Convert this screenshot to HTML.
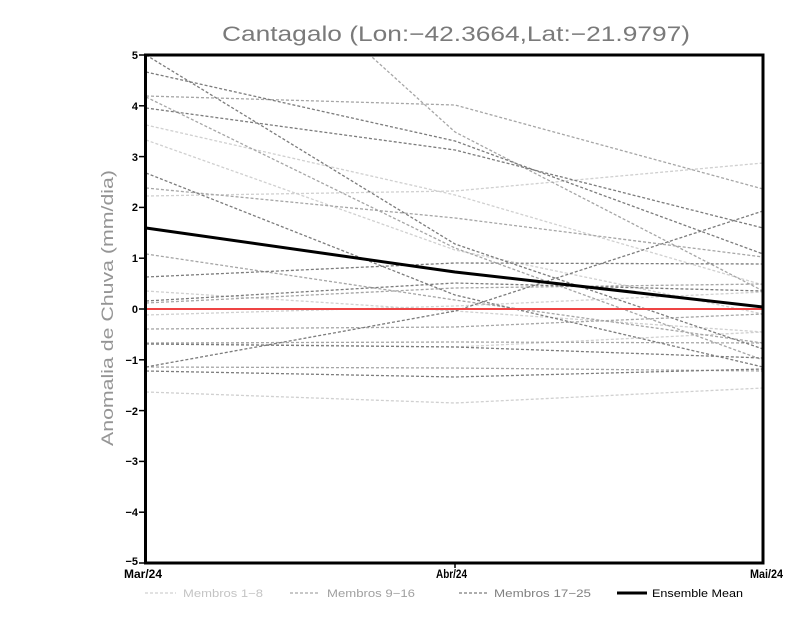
<!DOCTYPE html>
<html><head><meta charset="utf-8"><style>
html,body{margin:0;padding:0;background:#fff;}
svg{display:block;}
</style></head><body>
<svg width="800" height="618" viewBox="0 0 800 618" xmlns="http://www.w3.org/2000/svg" font-family="Liberation Sans, sans-serif">
<rect width="800" height="618" fill="#fff"/>
<defs><clipPath id="c"><rect x="146" y="55" width="617" height="508"/></clipPath></defs>
<text x="222" y="41" font-size="21" fill="#7a7a7a" textLength="468" lengthAdjust="spacingAndGlyphs">Cantagalo (Lon:−42.3664,Lat:−21.9797)</text>
<text transform="translate(113,308) rotate(-90)" text-anchor="middle" font-size="17" fill="#959595" textLength="276" lengthAdjust="spacingAndGlyphs">Anomalia de Chuva (mm/dia)</text>
<g clip-path="url(#c)" fill="none" stroke-dasharray="3,2" stroke-width="1.3">
<g stroke="#d0d0d0">
<polyline points="146,125 455,195 763,285"/>
<polyline points="146,140 455,250 763,314"/>
<polyline points="146,196 455,191 763,163"/>
<polyline points="146,291 455,311 763,332"/>
<polyline points="146,315 455,306 763,292"/>
<polyline points="146,392 455,403 763,388"/>
<polyline points="146,343 455,347 763,332"/>
</g>
<g stroke="#a6a6a6">
<polyline points="146,96 455,105 763,189"/>
<polyline points="146,97 455,248 763,360"/>
<polyline points="146,188 455,218 763,257"/>
<polyline points="146,254 455,300 763,343"/>
<polyline points="146,303 455,288 763,284"/>
<polyline points="146,329 455,327 763,314"/>
<polyline points="146,343 455,342 763,343"/>
<polyline points="146,-147 455,132 763,291"/>
<polyline points="146,367 455,368 763,371"/>
</g>
<g stroke="#7c7c7c">
<polyline points="146,55 455,244 763,349"/>
<polyline points="146,72 455,141 763,254"/>
<polyline points="146,108 455,150 763,228"/>
<polyline points="146,173 455,295 763,367"/>
<polyline points="146,277 455,263 763,264"/>
<polyline points="146,301 455,283 763,291"/>
<polyline points="146,344 455,347 763,358"/>
<polyline points="146,367 455,311 763,211"/>
<polyline points="146,371 455,377 763,369"/>
</g>
</g>
<line x1="146" y1="309" x2="763" y2="309" stroke="#ee4444" stroke-width="2"/>
<polyline points="146,228 455,272 763,307" fill="none" stroke="#000" stroke-width="3"/>
<rect x="145.5" y="55" width="617.5" height="508" fill="none" stroke="#000" stroke-width="3"/>
<g stroke="#000" stroke-width="1.5">
<line x1="139" y1="55" x2="145" y2="55"/><line x1="139" y1="105.8" x2="145" y2="105.8"/>
<line x1="139" y1="156.6" x2="145" y2="156.6"/><line x1="139" y1="207.4" x2="145" y2="207.4"/>
<line x1="139" y1="258.2" x2="145" y2="258.2"/><line x1="139" y1="309" x2="145" y2="309"/>
<line x1="139" y1="359.8" x2="145" y2="359.8"/><line x1="139" y1="410.6" x2="145" y2="410.6"/>
<line x1="139" y1="461.4" x2="145" y2="461.4"/><line x1="139" y1="512.2" x2="145" y2="512.2"/>
<line x1="139" y1="563" x2="145" y2="563"/>
<line x1="455" y1="563" x2="455" y2="568"/>
</g>
<g font-size="11" font-weight="bold" fill="#000" text-anchor="end">
<text x="138" y="59">5</text>
<text x="138" y="110">4</text>
<text x="138" y="161">3</text>
<text x="138" y="211">2</text>
<text x="138" y="262">1</text>
<text x="138" y="313">0</text>
<text x="138" y="364">−1</text>
<text x="138" y="415">−2</text>
<text x="138" y="465">−3</text>
<text x="138" y="516">−4</text>
<text x="138" y="565">−5</text>
</g>
<g font-size="12" font-weight="bold" fill="#000">
<text x="124" y="578" textLength="38" lengthAdjust="spacingAndGlyphs">Mar/24</text>
<text x="436" y="578" textLength="31" lengthAdjust="spacingAndGlyphs">Abr/24</text>
<text x="750" y="578" textLength="33" lengthAdjust="spacingAndGlyphs">Mai/24</text>
</g>
<g stroke-dasharray="3,2" stroke-width="1.3">
<line x1="145" y1="593" x2="176" y2="593" stroke="#d0d0d0"/>
<line x1="290" y1="593" x2="320" y2="593" stroke="#a6a6a6"/>
<line x1="459" y1="593" x2="489" y2="593" stroke="#7c7c7c"/>
</g>
<line x1="617" y1="593" x2="647" y2="593" stroke="#000" stroke-width="3"/>
<g font-size="11">
<text x="183" y="597" fill="#c4c4c4" textLength="80" lengthAdjust="spacingAndGlyphs">Membros 1−8</text>
<text x="327" y="597" fill="#a0a0a0" textLength="88" lengthAdjust="spacingAndGlyphs">Membros 9−16</text>
<text x="494" y="597" fill="#808080" textLength="97" lengthAdjust="spacingAndGlyphs">Membros 17−25</text>
<text x="652" y="597" fill="#000" textLength="91" lengthAdjust="spacingAndGlyphs">Ensemble Mean</text>
</g>
</svg>
</body></html>
